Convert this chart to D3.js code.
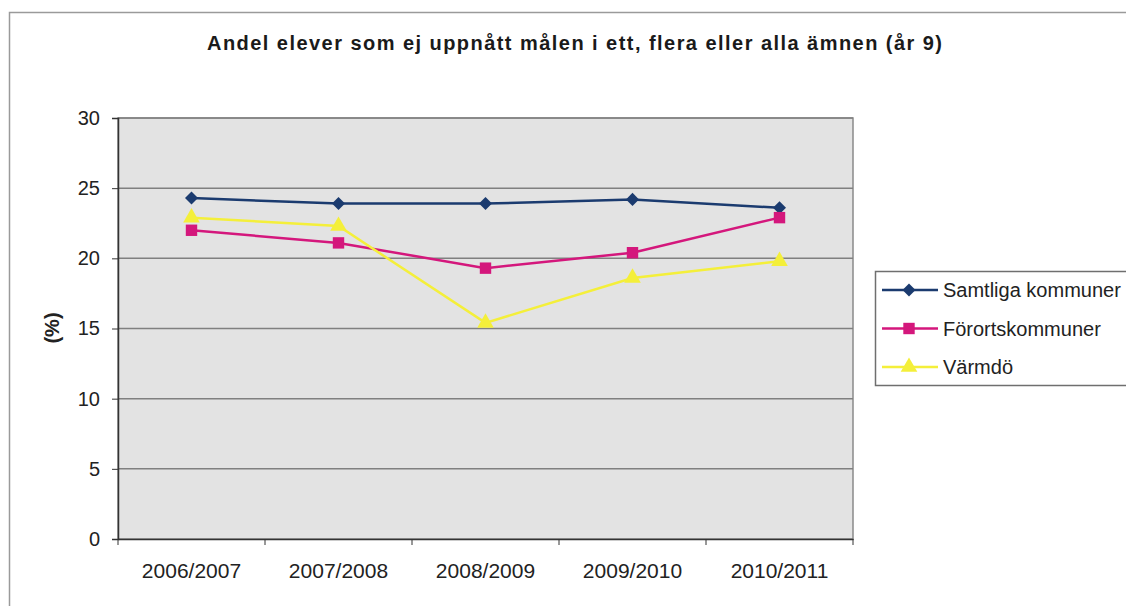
<!DOCTYPE html>
<html lang="sv">
  <head>
    <meta charset="UTF-8" />
    <title>Andel elever som ej uppnått målen</title>
    <style>
      body { margin: 0; background: #fff; }
      svg { display: block; font-family: "Liberation Sans", Arial, sans-serif; }
    </style>
    <script src="https://d3js.org/d3.v7.min.js"></script>
  </head>
  <body>
    <div id="svg-container"></div>
    <script>
      // data
      const categories = ["2006/2007", "2007/2008", "2008/2009", "2009/2010", "2010/2011"];
      const samtliga = [24.3, 23.9, 23.9, 24.2, 23.6];
      const forort = [22.0, 21.1, 19.3, 20.4, 22.9];
      const varmdo = [22.9, 22.3, 15.4, 18.6, 19.8];
      const yTicks = [0, 5, 10, 15, 20, 25, 30];

      const seriesNames = ["Samtliga kommuner", "Förortskommuner", "Värmdö"];
      const series = [
        { name: seriesNames[0], values: samtliga, color: "#1b3b6f", marker: d3.symbolSquare, size: 85, rotate: 45 },
        { name: seriesNames[1], values: forort, color: "#d4177c", marker: d3.symbolSquare, size: 130, rotate: 0 },
        { name: seriesNames[2], values: varmdo, color: "#f4ef3a", marker: d3.symbolTriangle, size: 120, rotate: 0 },
      ];

      const width = 1126, height = 606;
      const plot = { left: 118, right: 853, top: 118, bottom: 539 };

      const svg = d3.select("#svg-container")
        .append("svg")
        .attr("width", width)
        .attr("height", height);

      // outer chart frame (runs off the right and bottom)
      svg.append("rect")
        .attr("x", 9.5).attr("y", 12.5)
        .attr("width", 1200).attr("height", 700)
        .attr("fill", "#fff")
        .attr("stroke", "#9a9a9a")
        .attr("stroke-width", 1.5);

      // title
      svg.append("text")
        .attr("x", 207).attr("y", 50)
        .attr("textLength", 735)
        .attr("lengthAdjust", "spacing")
        .attr("font-size", "20px")
        .attr("font-weight", "bold")
        .attr("fill", "#1a1a1a")
        .text("Andel elever som ej uppnått målen i ett, flera eller alla ämnen (år 9)");

      const x = d3.scaleBand().domain(categories).range([plot.left, plot.right]).padding(0);
      const y = d3.scaleLinear().domain([0, 30]).range([plot.bottom, plot.top]);

      // plot area
      svg.append("rect")
        .attr("x", plot.left).attr("y", plot.top)
        .attr("width", plot.right - plot.left)
        .attr("height", plot.bottom - plot.top)
        .attr("fill", "#e3e3e3")
        .attr("stroke", "#8a8a8a")
        .attr("stroke-width", 1.5);

      // gridlines
      svg.append("g")
        .selectAll("line")
        .data(yTicks.filter(d => d > 0))
        .join("line")
        .attr("x1", plot.left).attr("x2", plot.right)
        .attr("y1", d => y(d)).attr("y2", d => y(d))
        .attr("stroke", "#808080")
        .attr("stroke-width", 1.5);

      // y axis
      const yAxis = svg.append("g")
        .attr("transform", `translate(${plot.left},0)`)
        .call(d3.axisLeft(y).tickValues(yTicks).tickSize(6).tickPadding(12));
      yAxis.select(".domain").attr("stroke", "#333").attr("stroke-width", 1.5);
      yAxis.selectAll(".tick line").attr("stroke", "#333");
      yAxis.selectAll("text").attr("font-size", "20px").attr("fill", "#222")
        .attr("font-family", "'Liberation Sans', Arial, sans-serif");

      // x axis, ticks between categories
      const xAxis = svg.append("g")
        .attr("transform", `translate(0,${plot.bottom})`)
        .call(d3.axisBottom(x).tickSize(0).tickPadding(24));
      xAxis.select(".domain").attr("stroke", "#333").attr("stroke-width", 1.5);
      xAxis.selectAll("text").attr("font-size", "21px").attr("fill", "#222")
        .attr("font-family", "'Liberation Sans', Arial, sans-serif");
      const edges = categories.map(c => x(c)).concat([plot.right]);
      xAxis.selectAll(".edge")
        .data(edges)
        .join("line")
        .attr("class", "edge")
        .attr("x1", d => d).attr("x2", d => d)
        .attr("y1", 0).attr("y2", 6)
        .attr("stroke", "#333");

      // y title
      svg.append("text")
        .attr("transform", "translate(59,328) rotate(-90)")
        .attr("text-anchor", "middle")
        .attr("font-size", "20px")
        .attr("font-weight", "bold")
        .attr("fill", "#222")
        .text("(%)");

      const cx = c => x(c) + x.bandwidth() / 2;
      const line = d3.line()
        .x((d, i) => cx(categories[i]))
        .y(d => y(d));

      series.forEach(s => {
        svg.append("path")
          .datum(s.values)
          .attr("fill", "none")
          .attr("stroke", s.color)
          .attr("stroke-width", 2.5)
          .attr("d", line);
      });
      series.forEach(s => {
        svg.append("g")
          .selectAll("path")
          .data(s.values)
          .join("path")
          .attr("transform", (d, i) => `translate(${cx(categories[i])},${y(d)}) rotate(${s.rotate})`)
          .attr("d", d3.symbol().type(s.marker).size(s.size))
          .attr("fill", s.color);
      });

      // legend
      const legend = svg.append("g");
      legend.append("rect")
        .attr("x", 875.5).attr("y", 271.5)
        .attr("width", 300).attr("height", 114)
        .attr("fill", "#fff")
        .attr("stroke", "#6f6f6f")
        .attr("stroke-width", 1.5);
      series.forEach((s, i) => {
        const ly = 290 + i * 38.5;
        legend.append("line")
          .attr("x1", 882).attr("x2", 938)
          .attr("y1", ly).attr("y2", ly)
          .attr("stroke", s.color)
          .attr("stroke-width", 2.5);
        legend.append("path")
          .attr("transform", `translate(909,${ly}) rotate(${s.rotate})`)
          .attr("d", d3.symbol().type(s.marker).size(s.size))
          .attr("fill", s.color);
        legend.append("text")
          .attr("x", 943).attr("y", ly + 7)
          .attr("font-size", "20px")
          .attr("fill", "#222")
          .text(s.name);
      });
    </script>
  </body>
</html>
